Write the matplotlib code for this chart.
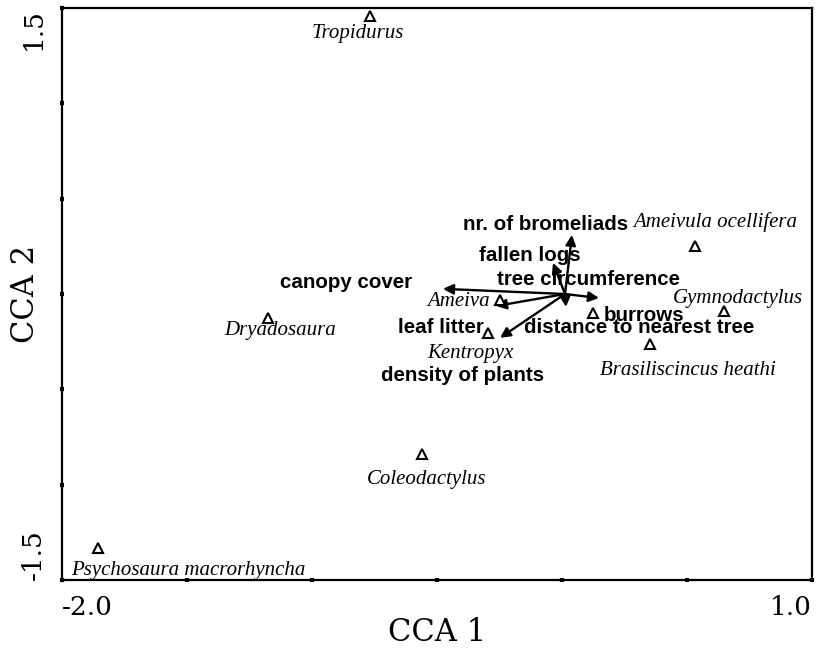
import matplotlib
matplotlib.use('Agg')
import matplotlib.pyplot as plt
import numpy as np

# Species scores (CCA 1, CCA 2)
species = ['Tropidurus', 'Ameivula ocellifera', 'Gymnodactylus', '', 'Ameiva',
           'Kentropyx', 'Brasiliscincus heathi', 'Dryadosaura', 'Coleodactylus',
           'Psychosaura macrorhyncha']
sp_x = [-0.768, 0.532, 0.648, 0.124, -0.248, -0.296, 0.352, -1.176, -0.560, -1.856]
sp_y = [1.458, 0.252, -0.089, -0.099, -0.031, -0.204, -0.262, -0.126, -0.839, -1.332]

# Environmental variable vectors (arrow tips, from the centroid)
variables = ['nr. of bromeliads', 'fallen logs', 'canopy cover', 'leaf litter',
             'density of plants', 'tree circumference', 'burrows']
var_x = [0.040, -0.036, -0.476, -0.264, -0.248, 0.016, 0.148]
var_y = [0.310, 0.163, 0.027, -0.063, -0.230, -0.068, -0.021]
origin = (0.012, 0.0)

# text placement
sp_offsets = [(-12, -17), (20, 24), (14, 12), (0, 0), (-42, -2), (-18, -21),
              (38, -27), (12, -12), (5, -26), (90, -23)]
var_labels = ['nr. of bromeliads', 'fallen logs', 'tree circumference', 'canopy cover',
              'leaf litter', 'burrows', 'distance to nearest tree', 'density of plants']
var_label_xy = [(-0.064, 0.367), (-0.128, 0.200), (0.108, 0.074), (-0.864, 0.058),
                (-0.484, -0.178), (0.328, -0.112), (0.308, -0.176), (-0.396, -0.430)]

fig = plt.figure(figsize=(8.18, 6.5), dpi=100)
ax = fig.add_axes([62 / 818, 70 / 650, 750 / 818, 572 / 650])

for xt, yt in zip(var_x, var_y):
    ax.annotate('', xy=(xt, yt), xytext=origin,
                arrowprops=dict(arrowstyle='-|>', lw=1.7, color='black',
                                mutation_scale=15, shrinkA=0, shrinkB=0))

ax.plot(sp_x, sp_y, linestyle='none', marker='^', markersize=6.5,
        markerfacecolor='white', markeredgecolor='black', markeredgewidth=1.5, zorder=3)

for name, x, y, off in zip(species, sp_x, sp_y, sp_offsets):
    if name:
        ax.annotate(name, xy=(x, y), xytext=off, textcoords='offset pixels',
                    ha='center', va='center', fontsize=15, style='italic',
                    family='Liberation Serif')

for name, (x, y) in zip(var_labels, var_label_xy):
    ax.text(x, y, name, ha='center', va='center', fontsize=14.8,
            fontweight='bold', family='Liberation Sans')

ax.set_xlim(-2.0, 1.0)
ax.set_ylim(-1.5, 1.5)

ax.set_xticks(np.arange(-2.0, 1.01, 0.5))
ax.set_yticks(np.arange(-1.5, 1.51, 0.5))
ax.set_xticklabels(['-2.0', '', '', '', '', '', '1.0'])
ax.set_yticklabels(['-1.5', '', '', '', '', '', '1.5'], rotation=90, va='center')
xl = ax.get_xticklabels()
xl[0].set_ha('left')
xl[-1].set_ha('right')
yl = ax.get_yticklabels()
yl[0].set_va('bottom')
yl[-1].set_va('top')
ax.tick_params(direction='inout', length=3, width=3, labelsize=19)
ax.tick_params(axis='x', pad=9)
ax.tick_params(axis='y', pad=10)
for lab in ax.get_xticklabels() + ax.get_yticklabels():
    lab.set_family('DejaVu Serif')

for s in ax.spines.values():
    s.set_linewidth(1.6)

ax.set_xlabel('CCA 1', fontsize=22, family='DejaVu Serif', va='baseline')
ax.xaxis.set_label_coords(0.5, -0.107)
ax.set_ylabel('CCA 2', fontsize=22, family='DejaVu Serif', va='center')
ax.yaxis.set_label_coords(-0.049, 0.5)

fig.savefig('out.png', dpi=100)
